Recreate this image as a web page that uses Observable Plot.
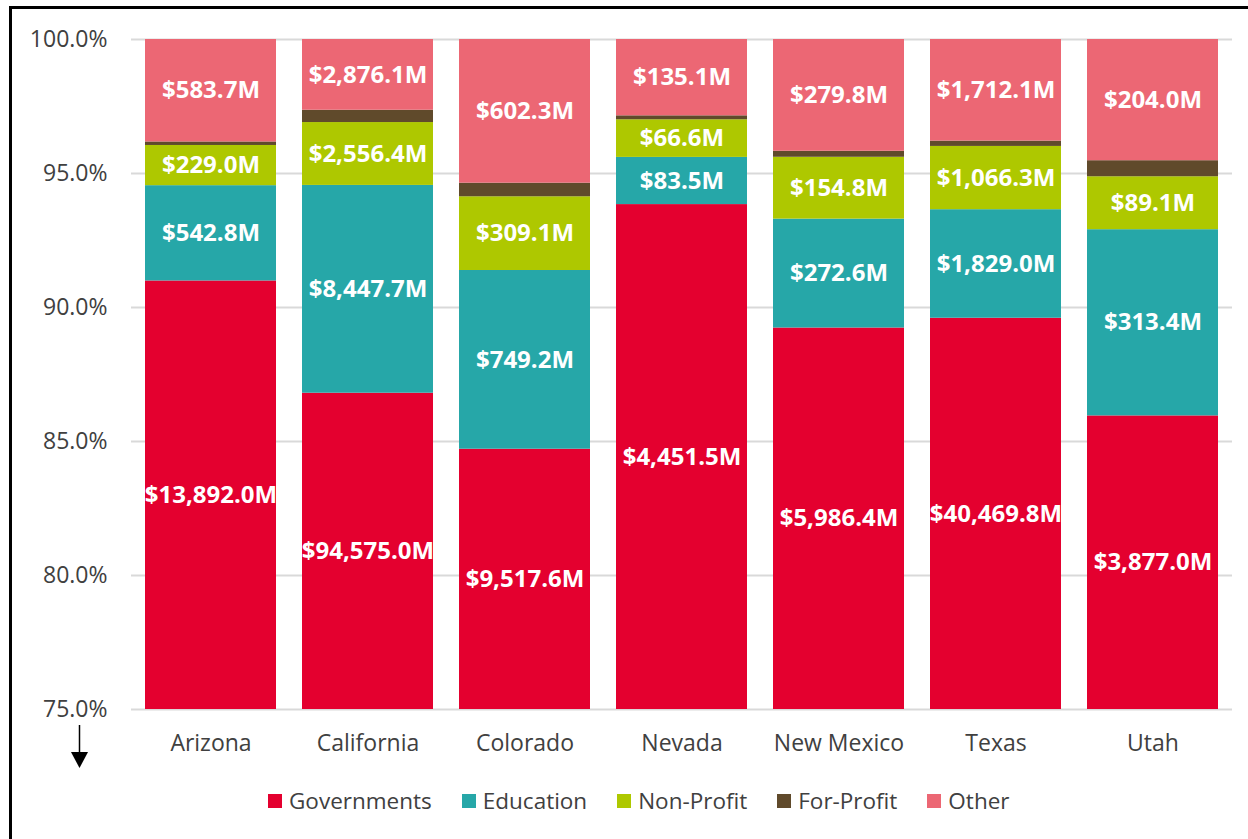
<!DOCTYPE html>
<html><head><meta charset="utf-8">
<script src="https://cdn.jsdelivr.net/npm/d3@7"></script>
<script src="https://cdn.jsdelivr.net/npm/@observablehq/plot@0.6"></script>
<style>
body{margin:0;width:1248px;height:839px;overflow:hidden;background:#fff;font-family:"Open Sans",sans-serif;position:relative}
#frame{position:absolute;left:9px;top:6px;width:1300px;height:900px;border:3px solid #000;box-sizing:border-box;pointer-events:none}
#chart{position:absolute;left:0;top:0}
#legend{position:absolute;left:268px;top:785px;display:flex;align-items:center;font-size:22.5px;color:#404040;white-space:nowrap}
#legend .item{display:flex;align-items:center;margin-right:30px}
#legend .sw{width:14px;height:14px;margin-right:7px}
#arrow{position:absolute;left:0;top:0}
</style></head>
<body>
<div id="chart"></div>
<svg id="arrow" width="160" height="839"><line x1="79.5" y1="725" x2="79.5" y2="755" stroke="#000" stroke-width="1.5"/><path d="M71,752 L88,752 L79.5,768 Z" fill="#000"/></svg>
<div id="legend"></div>
<div id="frame"></div>
<script>
const states = ["Arizona", "California", "Colorado", "Nevada", "New Mexico", "Texas", "Utah"];
const seriesNames = ["Governments", "Education", "Non-Profit", "For-Profit", "Other"];
const seriesColors = ["#E4002F", "#26A7A8", "#AEC800", "#604A2B", "#EC6774"];
const governments = [13892.0, 94575.0, 9517.6, 4451.5, 5986.4, 40469.8, 3877.0];
const education = [542.8, 8447.7, 749.2, 83.5, 272.6, 1829.0, 313.4];
const nonProfit = [229.0, 2556.4, 309.1, 66.6, 154.8, 1066.3, 89.1];
const forProfit = [20, 500, 57, 7, 15, 90, 27]; // estimated (unlabelled)
const other = [583.7, 2876.1, 602.3, 135.1, 279.8, 1712.1, 204.0];
const yTicks = [0.75, 0.80, 0.85, 0.90, 0.95, 1.00];
const labelled = [true, true, true, false, true];

const series = [governments, education, nonProfit, forProfit, other];
const yMin = 0.75;
const rows = [];
states.forEach((s, i) => {
  const total = series.reduce((a, arr) => a + arr[i], 0);
  let cum = 0;
  series.forEach((arr, k) => {
    const y1 = cum / total;
    cum += arr[i];
    const y2 = cum / total;
    rows.push({state: s, type: seriesNames[k], value: arr[i], y1, y2,
      mid: (Math.max(y1, yMin) + y2) / 2, show: labelled[k],
      label: "$" + d3.format(",.1f")(arr[i]) + "M"});
  });
});

const chart = Plot.plot({
  width: 1248, height: 770,
  marginTop: 39, marginBottom: 61, marginLeft: 131, marginRight: 16,
  style: {fontFamily: "'Open Sans', sans-serif", fontSize: "23px", color: "#404040", background: "transparent"},
  x: {domain: states, paddingInner: 0.167, paddingOuter: 0.0835, label: null, tickSize: 0, tickPadding: 25},
  y: {domain: [yMin, 1], ticks: yTicks, tickFormat: d3.format(".1%"), label: null, tickSize: 0, tickPadding: 24},
  color: {domain: seriesNames, range: seriesColors},
  marks: [
    Plot.ruleY(yTicks, {stroke: "#D9D9D9", strokeWidth: 2}),
    Plot.barY(rows, {x: "state", y1: "y1", y2: "y2", fill: "type", clip: true}),
    Plot.text(rows.filter(d => d.show), {x: "state", y: "mid", text: "label", fill: "white", fontWeight: "bold", fontSize: 24})
  ]
});
document.getElementById("chart").appendChild(chart);

const legend = document.getElementById("legend");
seriesNames.forEach((n, k) => {
  const it = document.createElement("div");
  it.className = "item";
  it.innerHTML = `<span class="sw" style="background:${seriesColors[k]}"></span><span>${n}</span>`;
  legend.appendChild(it);
});
</script>
</body></html>
